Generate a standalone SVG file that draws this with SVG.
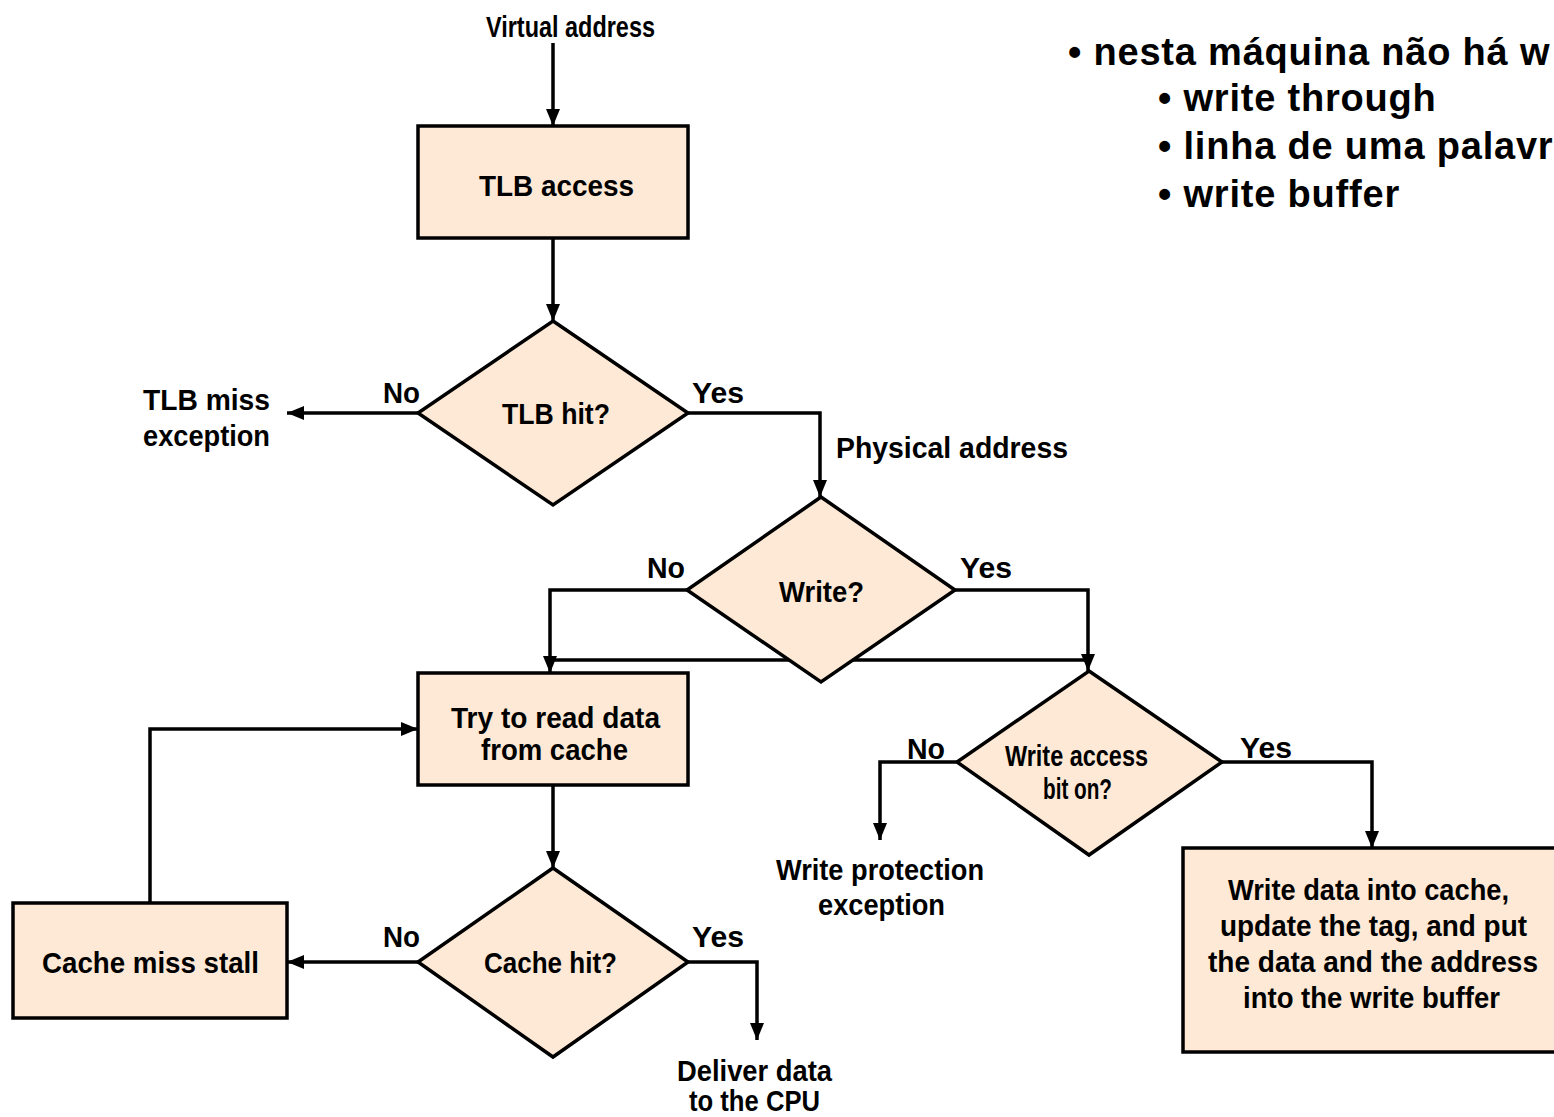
<svg xmlns="http://www.w3.org/2000/svg" width="1554" height="1117" viewBox="0 0 1554 1117">
<style>
.n{fill:#FDE9D5;stroke:#000;stroke-width:3.5}
.c{fill:none;stroke:#000;stroke-width:3.5}
text{font-family:"Liberation Sans",Arial,sans-serif;font-weight:bold;fill:#000}
.l{font-size:30px}
.b{font-size:38px;letter-spacing:0.8px}
</style>
<defs>
<marker id="ah" viewBox="0 0 17 14" refX="17" refY="7" markerWidth="17" markerHeight="14" markerUnits="userSpaceOnUse" orient="auto">
<path d="M0,0 L17,7 L0,14 z" fill="#000"/>
</marker>
</defs>
<rect width="1554" height="1117" fill="#fff"/>
<g id="connectors">
<path class="c" d="M553,43 V126" marker-end="url(#ah)"/>
<path class="c" d="M553,238 V321" marker-end="url(#ah)"/>
<path class="c" d="M418,413 H287" marker-end="url(#ah)"/>
<path class="c" d="M688,413 H820 V497" marker-end="url(#ah)"/>
<path class="c" d="M687,590 H550 V673" marker-end="url(#ah)"/>
<path class="c" d="M955,590 H1088 V671" marker-end="url(#ah)"/>
<path class="c" d="M550,660 H1088"/>
<path class="c" d="M553,785 V868" marker-end="url(#ah)"/>
<path class="c" d="M418,962 H287" marker-end="url(#ah)"/>
<path class="c" d="M150,903 V729 H418" marker-end="url(#ah)"/>
<path class="c" d="M688,962 H757 V1040" marker-end="url(#ah)"/>
<path class="c" d="M957,762 H880 V840" marker-end="url(#ah)"/>
<path class="c" d="M1222,762 H1372 V848" marker-end="url(#ah)"/>
</g>
<g id="labels">
<text class="l" x="486" y="37" textLength="169" lengthAdjust="spacingAndGlyphs">Virtual address</text>
<text class="l" x="383" y="403" textLength="37" lengthAdjust="spacingAndGlyphs">No</text>
<text class="l" x="692" y="403" textLength="52" lengthAdjust="spacingAndGlyphs">Yes</text>
<text class="l" x="143" y="410" textLength="127" lengthAdjust="spacingAndGlyphs">TLB miss</text>
<text class="l" x="143" y="446" textLength="127" lengthAdjust="spacingAndGlyphs">exception</text>
<text class="l" x="836" y="458" textLength="232" lengthAdjust="spacingAndGlyphs">Physical  address</text>
<text class="l" x="647" y="578" textLength="38" lengthAdjust="spacingAndGlyphs">No</text>
<text class="l" x="960" y="578" textLength="52" lengthAdjust="spacingAndGlyphs">Yes</text>
<text class="l" x="907" y="759" textLength="38" lengthAdjust="spacingAndGlyphs">No</text>
<text class="l" x="1240" y="758" textLength="52" lengthAdjust="spacingAndGlyphs">Yes</text>
<text class="l" x="776" y="880" textLength="208" lengthAdjust="spacingAndGlyphs">Write protection</text>
<text class="l" x="818" y="915" textLength="127" lengthAdjust="spacingAndGlyphs">exception</text>
<text class="l" x="383" y="947" textLength="37" lengthAdjust="spacingAndGlyphs">No</text>
<text class="l" x="692" y="947" textLength="52" lengthAdjust="spacingAndGlyphs">Yes</text>
<text class="l" x="677" y="1081" textLength="155" lengthAdjust="spacingAndGlyphs">Deliver data</text>
<text class="l" x="689" y="1111" textLength="131" lengthAdjust="spacingAndGlyphs">to the CPU</text>
</g>
<g id="tlb-access">
<rect class="n" x="418" y="126" width="270" height="112"/>
<text class="l" x="479" y="196" textLength="155" lengthAdjust="spacingAndGlyphs">TLB access</text>
</g>
<g id="tlb-hit">
<polygon class="n" points="553,321 688,413 553,505 418,413"/>
<text class="l" x="502" y="424" textLength="108" lengthAdjust="spacingAndGlyphs">TLB hit?</text>
</g>
<g id="write">
<polygon class="n" points="821,497 955,590 821,682 687,590"/>
<text class="l" x="779" y="602" textLength="85" lengthAdjust="spacingAndGlyphs">Write?</text>
</g>
<g id="try-read">
<rect class="n" x="418" y="673" width="270" height="112"/>
<text class="l" x="451" y="728" textLength="209" lengthAdjust="spacingAndGlyphs">Try to read data</text>
<text class="l" x="481" y="760" textLength="147" lengthAdjust="spacingAndGlyphs">from cache</text>
</g>
<g id="write-access">
<polygon class="n" points="1089,671 1222,762 1089,855 957,762"/>
<text class="l" x="1005" y="766" textLength="143" lengthAdjust="spacingAndGlyphs">Write access</text>
<text class="l" x="1043" y="799" textLength="69" lengthAdjust="spacingAndGlyphs">bit on?</text>
</g>
<g id="write-data">
<rect class="n" x="1183" y="848" width="390" height="204"/>
<text class="l" x="1228" y="900" textLength="281" lengthAdjust="spacingAndGlyphs">Write data into cache,</text>
<text class="l" x="1220" y="936" textLength="307" lengthAdjust="spacingAndGlyphs">update the tag, and put</text>
<text class="l" x="1208" y="972" textLength="330" lengthAdjust="spacingAndGlyphs">the data and the address</text>
<text class="l" x="1243" y="1008" textLength="257" lengthAdjust="spacingAndGlyphs">into the write buffer</text>
</g>
<g id="cache-hit">
<polygon class="n" points="553,868 688,962 553,1057 418,962"/>
<text class="l" x="484" y="973" textLength="133" lengthAdjust="spacingAndGlyphs">Cache hit?</text>
</g>
<g id="cache-miss">
<rect class="n" x="13" y="903" width="274" height="115"/>
<text class="l" x="42" y="973" textLength="217" lengthAdjust="spacingAndGlyphs">Cache miss stall</text>
</g>
<g id="notes">
<text class="b" x="1068" y="65">• nesta máquina não há w</text>
<text class="b" x="1158" y="111">• write through</text>
<text class="b" x="1158" y="159">• linha de uma palavr</text>
<text class="b" x="1158" y="207">• write buffer</text>
</g>
</svg>
